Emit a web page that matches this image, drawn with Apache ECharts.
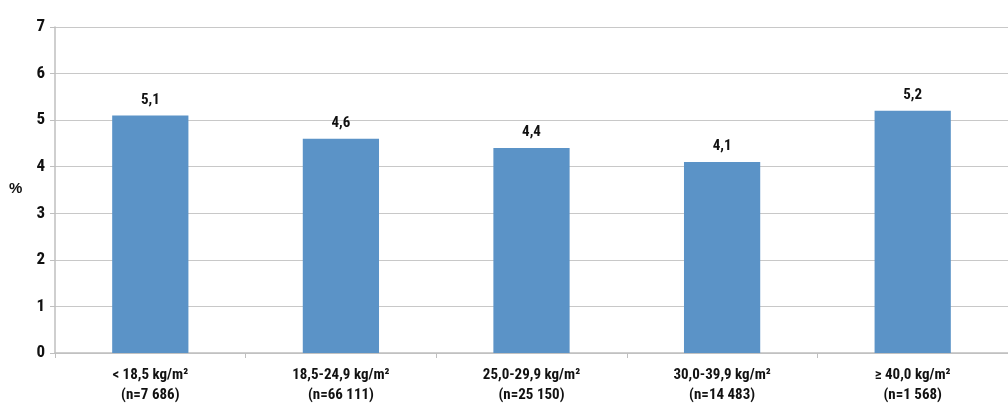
<!DOCTYPE html>
<html><head><meta charset="utf-8">
<script src="https://cdn.jsdelivr.net/npm/echarts@6/dist/echarts.min.js"></script>
<style>html,body{margin:0;padding:0;background:#fff}#c{width:1008px;height:407px}</style>
</head><body><div id="c"></div>
<script>
const categories = ['< 18,5 kg/m²\n(n=7 686)', '18,5-24,9 kg/m²\n(n=66 111)', '25,0-29,9 kg/m²\n(n=25 150)', '30,0-39,9 kg/m²\n(n=14 483)', '≥ 40,0 kg/m²\n(n=1 568)'];
const values = [5.1, 4.6, 4.4, 4.1, 5.2];
const yTicks = [0, 1, 2, 3, 4, 5, 6, 7];
const yTitle = '%';
const font = '"Liberation Sans Narrow", "Arial Narrow", "Roboto Condensed", sans-serif';
const chart = echarts.init(document.getElementById('c'));
chart.setOption({
  animation: false,
  grid: {left: 55, right: -14, top: 27, bottom: 54, containLabel: false},
  graphic: [{
    type: 'text', left: 9, top: 181,
    style: {text: yTitle, fill: '#111', fontFamily: 'Liberation Sans', fontWeight: 'bold', fontSize: 15}
  }],
  xAxis: {
    type: 'category', data: categories,
    axisLine: {lineStyle: {color: '#bfbfbf', width: 1.5}},
    axisTick: {show: true, length: 5, lineStyle: {color: '#bfbfbf'}},
    axisLabel: {color: '#111', fontFamily: font, fontWeight: 'bold', fontSize: 15, lineHeight: 20, margin: 12, interval: 0}
  },
  yAxis: {
    type: 'value', min: 0, max: 7, interval: 1,
    axisLine: {show: true, lineStyle: {color: '#bfbfbf', width: 1.5}},
    axisTick: {show: true, length: 5, lineStyle: {color: '#bfbfbf'}},
    splitLine: {lineStyle: {color: '#c8c8c8', width: 1.2}},
    axisLabel: {color: '#111', fontFamily: font, fontWeight: 'bold', fontSize: 17, margin: 10,
      formatter: v => yTicks.includes(v) ? String(v) : ''}
  },
  series: [{
    type: 'bar', data: values, barWidth: '40%',
    itemStyle: {color: '#5b93c7'},
    label: {show: true, position: 'top', distance: 8, color: '#111', fontFamily: font, fontWeight: 'bold', fontSize: 15,
      formatter: p => String(p.value).replace('.', ',')}
  }]
});
</script></body></html>
